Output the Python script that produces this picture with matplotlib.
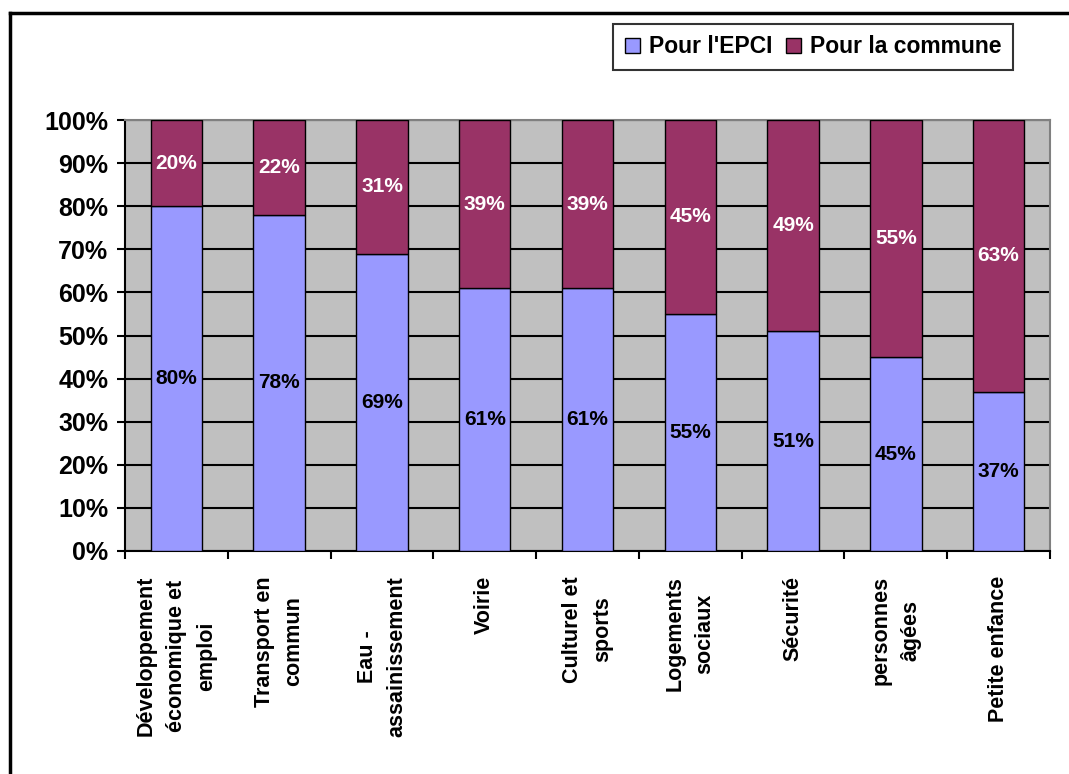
import matplotlib.pyplot as plt
import numpy as np
from matplotlib.lines import Line2D
from matplotlib.patches import Patch

plt.rcParams['font.family'] = ['Liberation Sans', 'DejaVu Sans']
plt.rcParams['font.weight'] = 'bold'

categories = [
    "Développement\néconomique et\nemploi",
    "Transport en\ncommun",
    "Eau -\nassainissement",
    "Voirie",
    "Culturel et\nsports",
    "Logements\nsociaux",
    "Sécurité",
    "personnes\nâgées",
    "Petite enfance",
]
pour_epci = [80, 78, 69, 61, 61, 55, 51, 45, 37]
pour_commune = [20, 22, 31, 39, 39, 45, 49, 55, 63]
series_labels = ["Pour l'EPCI", "Pour la commune"]
y_ticks = [0, 10, 20, 30, 40, 50, 60, 70, 80, 90, 100]

c_epci = '#9999FF'
c_commune = '#993366'

fig = plt.figure(figsize=(10.69, 7.74), dpi=100)
ax = fig.add_axes([125 / 1069, 1 - 551 / 774, 925 / 1069, 431 / 774])

x = np.arange(len(categories))
ax.set_facecolor('#C0C0C0')
ax.bar(x, pour_epci, width=0.5, color=c_epci, edgecolor='black', linewidth=1.0, zorder=3)
ax.bar(x, pour_commune, width=0.5, bottom=pour_epci, color=c_commune,
       edgecolor='black', linewidth=1.0, zorder=3)

for xi, e, c in zip(x, pour_epci, pour_commune):
    ax.text(xi, e / 2, f"{e}%", ha='center', va='center', fontsize=15,
            fontweight='bold', color='black', zorder=4)
    ax.text(xi, e + c / 2, f"{c}%", ha='center', va='center', fontsize=15,
            fontweight='bold', color='white', zorder=4)

ax.set_xlim(-0.5, len(categories) - 0.5)
ax.set_ylim(0, 100)
ax.set_yticks(y_ticks)
ax.set_yticklabels([f"{v}%" for v in y_ticks], fontsize=18, fontweight='bold')
ax.yaxis.grid(True, color='black', linewidth=1.5, zorder=1)
ax.set_axisbelow(True)

# category names at bar centres, tick marks on the boundaries
ax.set_xticks(x)
ax.set_xticklabels(categories, rotation=90, fontsize=15.5, fontweight='bold',
                   multialignment='center', linespacing=1.55)
ax.set_xticks(np.arange(len(categories) + 1) - 0.5, minor=True)
ax.tick_params(axis='x', which='major', length=0, pad=18)
ax.tick_params(axis='x', which='minor', length=6, width=1.5, direction='out')
ax.tick_params(axis='y', length=6, width=1.5, direction='out', pad=6)

for side in ('top', 'right'):
    ax.spines[side].set_color('#808080')
    ax.spines[side].set_linewidth(1.5)
for side in ('left', 'bottom'):
    ax.spines[side].set_color('black')
    ax.spines[side].set_linewidth(1.5)

handles = [Patch(facecolor=c_epci, edgecolor='black'),
           Patch(facecolor=c_commune, edgecolor='black')]
leg = fig.legend(handles, series_labels, loc='upper right',
                 bbox_to_anchor=(1013 / 1069, 1 - 24 / 774), ncol=2,
                 prop={'size': 16.5, 'weight': 'bold'}, frameon=True, fancybox=False,
                 handlelength=0.65, handleheight=0.65, handletextpad=0.4,
                 columnspacing=0.6, borderpad=0.5, borderaxespad=0)
leg.get_frame().set_edgecolor('black')
leg.get_frame().set_linewidth(1.5)

# outer chart border
fig.add_artist(Line2D([10 / 1069, 10 / 1069], [0, 1 - 13 / 774], color='black', linewidth=2.5))
fig.add_artist(Line2D([10 / 1069, 1], [1 - 13 / 774, 1 - 13 / 774], color='black', linewidth=2.5))

fig.savefig('out.png', dpi=100)
